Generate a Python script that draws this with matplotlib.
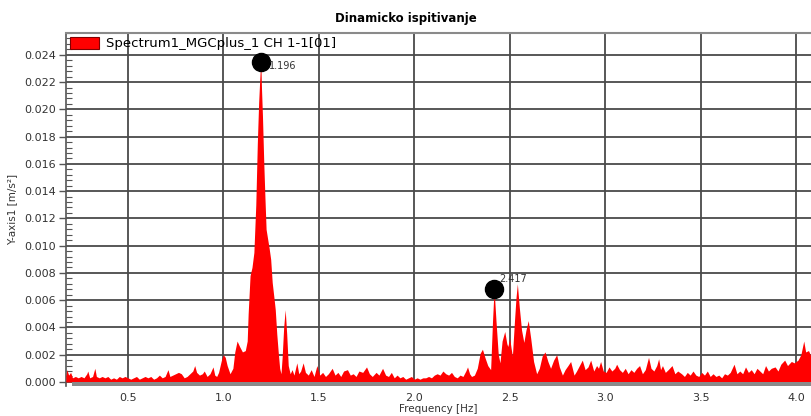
import numpy as np
import matplotlib
matplotlib.use("Agg")
import matplotlib.pyplot as plt
from matplotlib.ticker import MultipleLocator, AutoMinorLocator

# Spektar (ocitano sa slike), frekvencija [Hz] i amplituda [m/s^2]
freq = [0.175, 0.18, 0.19, 0.20, 0.21, 0.225, 0.24, 0.255, 0.27, 0.285, 0.29, 0.30, 0.315, 0.327,
        0.335, 0.35, 0.365, 0.38, 0.395, 0.41, 0.425, 0.44, 0.455, 0.47, 0.485, 0.50, 0.515, 0.53,
        0.545, 0.56, 0.575, 0.59, 0.605, 0.62, 0.635, 0.65, 0.665, 0.68, 0.695, 0.71, 0.72, 0.735,
        0.75, 0.765, 0.78, 0.795, 0.81, 0.825, 0.84, 0.85, 0.86, 0.875, 0.89, 0.90, 0.915, 0.93,
        0.946, 0.955, 0.965, 0.975, 0.99, 1.0, 1.01, 1.02, 1.035, 1.05, 1.06, 1.072, 1.085, 1.10,
        1.115, 1.125, 1.13, 1.14, 1.15, 1.16, 1.17, 1.178, 1.185, 1.19, 1.196, 1.20, 1.205, 1.212,
        1.218, 1.224, 1.232, 1.24, 1.248, 1.256, 1.265, 1.272, 1.28, 1.288, 1.295, 1.302, 1.308,
        1.316, 1.324, 1.332, 1.34, 1.35, 1.36, 1.37, 1.385, 1.395, 1.405, 1.418, 1.43, 1.445, 1.46,
        1.475, 1.49, 1.505, 1.52, 1.535, 1.55, 1.57, 1.585, 1.60, 1.615, 1.63, 1.65, 1.665, 1.68,
        1.695, 1.71, 1.73, 1.75, 1.765, 1.78, 1.80, 1.815, 1.834, 1.85, 1.865, 1.88, 1.895, 1.91,
        1.925, 1.94, 1.955, 1.97, 1.985, 2.0, 2.015, 2.03, 2.045, 2.06, 2.075, 2.09, 2.105, 2.12,
        2.135, 2.15, 2.165, 2.18, 2.195, 2.21, 2.225, 2.24, 2.255, 2.27, 2.279, 2.29, 2.30, 2.315,
        2.33, 2.345, 2.357, 2.37, 2.385, 2.40, 2.41, 2.418, 2.428, 2.44, 2.449, 2.46, 2.474, 2.485,
        2.49, 2.50, 2.507, 2.514, 2.525, 2.533, 2.54, 2.55, 2.562, 2.574, 2.585, 2.597, 2.61, 2.625,
        2.641, 2.655, 2.67, 2.685, 2.70, 2.714, 2.73, 2.746, 2.76, 2.776, 2.79, 2.805, 2.819, 2.837,
        2.85, 2.865, 2.88, 2.895, 2.91, 2.924, 2.94, 2.955, 2.965, 2.976, 2.99, 3.005, 3.02, 3.035,
        3.05, 3.06, 3.075, 3.09, 3.105, 3.12, 3.135, 3.15, 3.165, 3.18, 3.195, 3.21, 3.227, 3.24,
        3.255, 3.27, 3.28, 3.29, 3.30, 3.315, 3.33, 3.35, 3.365, 3.38, 3.40, 3.415, 3.43, 3.445,
        3.46, 3.475, 3.49, 3.505, 3.52, 3.535, 3.55, 3.565, 3.58, 3.595, 3.61, 3.625, 3.64, 3.655,
        3.675, 3.69, 3.705, 3.72, 3.735, 3.75, 3.765, 3.78, 3.795, 3.81, 3.825, 3.84, 3.855, 3.87,
        3.89, 3.905, 3.92, 3.94, 3.955, 3.975, 3.99, 4.01, 4.025, 4.04, 4.05, 4.065, 4.08]

amp = [0.0004, 0.0009, 0.0005, 0.0007, 0.0003, 0.0004, 0.0003, 0.0004, 0.0003, 0.0006, 0.0008, 0.0003,
       0.0004, 0.0010, 0.0004, 0.0003, 0.0004, 0.0003, 0.0004, 0.0002, 0.0003, 0.0002, 0.0004, 0.0003,
       0.0004, 0.0003, 0.0002, 0.0003, 0.0004, 0.0002, 0.0003, 0.0004, 0.0003, 0.0004, 0.0002, 0.0003,
       0.0005, 0.0003, 0.0004, 0.0009, 0.0004, 0.0005, 0.0006, 0.0007, 0.0006, 0.0003, 0.0004, 0.0006,
       0.0008, 0.0012, 0.0007, 0.0005, 0.0006, 0.0008, 0.0004, 0.0006, 0.0011, 0.0005, 0.0004, 0.0007,
       0.0016, 0.0020, 0.0018, 0.0012, 0.0006, 0.0010, 0.0022, 0.0030, 0.0026, 0.0022, 0.0023, 0.0030,
       0.0050, 0.0078, 0.0084, 0.0095, 0.0130, 0.0175, 0.0205, 0.0220, 0.0236, 0.0215, 0.0195, 0.0160,
       0.0135, 0.0112, 0.0105, 0.0098, 0.0090, 0.0073, 0.0062, 0.0053, 0.0035, 0.0021, 0.0010, 0.0006,
       0.0018, 0.0040, 0.0053, 0.0035, 0.0012, 0.0006, 0.0009, 0.0005, 0.0014, 0.0006, 0.0008, 0.0014,
       0.0007, 0.0005, 0.0009, 0.0004, 0.0012, 0.0005, 0.0007, 0.0004, 0.0006, 0.0010, 0.0005, 0.0007,
       0.0004, 0.0008, 0.0009, 0.0005, 0.0006, 0.0004, 0.0008, 0.0007, 0.0011, 0.0006, 0.0004, 0.0007,
       0.0005, 0.0010, 0.0005, 0.0004, 0.0007, 0.0003, 0.0005, 0.0003, 0.0004, 0.0002, 0.0003, 0.0004,
       0.0002, 0.0003, 0.0002, 0.0003, 0.0003, 0.0004, 0.0003, 0.0005, 0.0006, 0.0005, 0.0008, 0.0006,
       0.0005, 0.0007, 0.0004, 0.0003, 0.0005, 0.0004, 0.0008, 0.0011, 0.0006, 0.0004, 0.0005, 0.0010,
       0.0021, 0.0024, 0.0018, 0.0012, 0.0009, 0.0045, 0.0068, 0.0045, 0.0020, 0.0014, 0.0030, 0.0037,
       0.0028, 0.0026, 0.0032, 0.0025, 0.0019, 0.0045, 0.0062, 0.0072, 0.0055, 0.0038, 0.0029, 0.0038,
       0.0045, 0.0032, 0.0015, 0.0006, 0.0010, 0.0019, 0.0022, 0.0015, 0.0010, 0.0016, 0.0020, 0.0011,
       0.0005, 0.0009, 0.0012, 0.0015, 0.0005, 0.0008, 0.0012, 0.0016, 0.0009, 0.0011, 0.0016, 0.0008,
       0.0012, 0.0010, 0.0015, 0.0008, 0.0007, 0.0011, 0.0008, 0.0010, 0.0013, 0.0009, 0.0007, 0.0010,
       0.0006, 0.0009, 0.0007, 0.0010, 0.0012, 0.0006, 0.0009, 0.0018, 0.0010, 0.0008, 0.0012, 0.0017,
       0.0009, 0.0012, 0.0007, 0.0009, 0.0012, 0.0006, 0.0008, 0.0006, 0.0004, 0.0007, 0.0005, 0.0008,
       0.0005, 0.0004, 0.0007, 0.0005, 0.0008, 0.0004, 0.0006, 0.0004, 0.0005, 0.0003, 0.0006, 0.0005,
       0.0007, 0.0013, 0.0006, 0.0008, 0.0006, 0.0011, 0.0007, 0.0009, 0.0006, 0.0010, 0.0008, 0.0006,
       0.0012, 0.0008, 0.0010, 0.0011, 0.0008, 0.0013, 0.0016, 0.0012, 0.0015, 0.0014, 0.0016, 0.0020,
       0.0030, 0.0022, 0.0023, 0.0018]

# Oznaceni vrhovi
peak_freq = [1.196, 2.417]
peak_amp = [0.0235, 0.0068]
peak_labels = ["1.196", "2.417"]

fig = plt.figure(figsize=(8.11, 4.16), dpi=100)
ax = fig.add_axes([0.0814, 0.0721, 0.9186, 0.8485])

y0 = -0.0003
ax.fill_between(freq, 0, amp, color="#ff0000", linewidth=0, zorder=3,
                label="Spectrum1_MGCplus_1 CH 1-1[01]")
ax.axhspan(y0, 0, xmin=0.008, color="#8a8a8a", zorder=4, linewidth=0)

# Markeri na vrhovima
ax.plot(peak_freq, peak_amp, "o", color="black", markersize=13, zorder=5, clip_on=False)
ax.annotate(peak_labels[0], (peak_freq[0], peak_amp[0]), xytext=(6, -5),
            textcoords="offset points", fontsize=7, color="#333333", zorder=6)
ax.annotate(peak_labels[1], (peak_freq[1], peak_amp[1]), xytext=(4, 5),
            textcoords="offset points", fontsize=7, color="#333333", zorder=6)

ax.set_xlim(0.176, 4.078)
ax.set_ylim(y0, 0.0256)
ax.yaxis.set_minor_locator(AutoMinorLocator(5))
ax.set_yticks(np.arange(0, 0.0241, 0.002))
ax.set_yticklabels(["%.3f" % v for v in np.arange(0, 0.0241, 0.002)])
ax.set_xticks([0.5, 1.0, 1.5, 2.0, 2.5, 3.0, 3.5, 4.0])
ax.set_xticklabels(["0.5", "1.0", "1.5", "2.0", "2.5", "3.0", "3.5", "4.0"])

ax.grid(True, which="major", color="#4a4a4a", linewidth=1.3, zorder=1)
ax.set_axisbelow(True)
ax.tick_params(axis="y", which="major", direction="out", length=5, width=1,
               color="#555555", labelsize=8, labelcolor="#333333", pad=2)
ax.tick_params(axis="y", which="minor", direction="in", length=4, width=0.8, color="#555555")
ax.tick_params(axis="x", which="major", length=0, labelsize=8, labelcolor="#333333", pad=5)

for s in ["right", "bottom"]:
    ax.spines[s].set_visible(False)
ax.spines["top"].set_color("#8a8a8a")
ax.spines["top"].set_linewidth(1.5)
ax.spines["left"].set_color("#555555")
ax.spines["left"].set_linewidth(1.2)

ax.set_xlabel("Frequency [Hz]", fontsize=7.5, color="#333333", labelpad=1)
ax.set_ylabel("Y-axis1 [m/s²]", fontsize=7.5, color="#333333", labelpad=0)
ax.yaxis.set_label_coords(-0.066, 0.5)
fig.suptitle("Dinamicko ispitivanje", x=0.5, y=0.97, fontsize=8.5, fontweight="bold")

leg = ax.legend(loc="upper left", frameon=False, fontsize=9.5, handlelength=2.2,
                handleheight=1.0, borderaxespad=0.1, borderpad=0.2, handletextpad=0.5)
for h in leg.legend_handles:
    h.set_edgecolor("#800000")
    h.set_linewidth(0.8)

fig.savefig("out.png", dpi=100)
